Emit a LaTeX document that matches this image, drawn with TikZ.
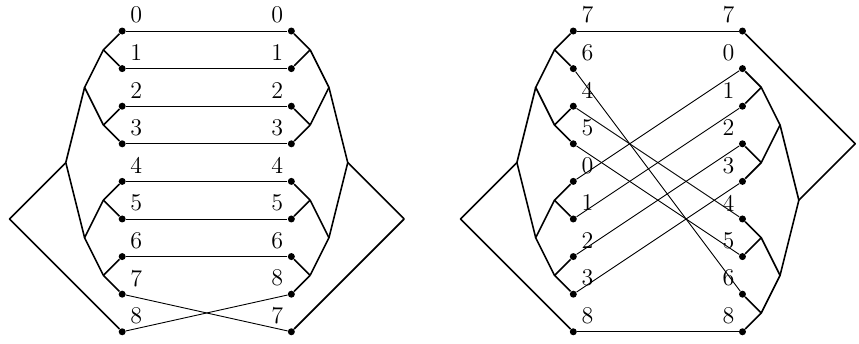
\documentclass[tikz,border=0pt]{standalone}
\usepackage{tikz}
\usetikzlibrary{positioning}

% binary merge tree hanging off one column of dots
% #1 prefix, #2 x of the dots, #3 side (-1 or 1), #4 first of eight rows, #5 lone row
\newcommand\mergetree[5]{%
  \foreach \k in {0,...,3} {
    \pgfmathtruncatemacro\m{#4+2*\k}
    \pgfmathtruncatemacro\n{#4+2*\k+1}
    \coordinate (#1p\k) at ({#2+(#3)},{-2*\m-1});
    \draw[tree] (#1\m) -- (#1p\k) -- (#1\n);
  }
  \coordinate (#1q0) at ({#2+2*(#3)},{-2*(#4)-3});
  \coordinate (#1q1) at ({#2+2*(#3)},{-2*(#4)-11});
  \coordinate (#1r) at ({#2+3*(#3)},{-2*(#4)-7});
  \coordinate (#1s) at ({#2+6*(#3)},{-2*(#4)-7-3*sign(#5-(#4))});
  \draw[tree] (#1p0) -- (#1q0) -- (#1p1);
  \draw[tree] (#1p2) -- (#1q1) -- (#1p3);
  \draw[tree] (#1q0) -- (#1r) -- (#1q1);
  \draw[tree] (#1r) -- (#1s) -- (#1#5);
}

\begin{document}
\begin{tikzpicture}[
    x=9.4pt, y=9.4pt,
    dot/.style={circle, fill, inner sep=0pt, minimum size=3.5pt},
    num/.style={inner sep=0pt, font=\large},
    tree/.style={line width=0.8pt, line join=round},
    wire/.style={line width=0.45pt},
  ]
  \useasboundingbox (0,-16.6) rectangle (45.7,1.65);

  % first network
  \foreach \t [count=\i from 0] in {0,1,2,3,4,5,6,7,8} {
    \node[dot] (a\i) at (6.5,-2*\i) {};
    \node[num] (a\i t) at (7.25,-2*\i+0.85) {\t};
  }
  \foreach \t [count=\i from 0] in {0,1,2,3,4,5,6,8,7} {
    \node[dot] (b\i) at (15.5,-2*\i) {};
    \node[num] (b\i t) at (14.75,-2*\i+0.85) {\t};
  }
  \foreach \i/\j in {0/0,1/1,2/2,3/3,4/4,5/5,6/6,7/8,8/7}
    \draw[wire] (a\i) -- (b\j);
  \mergetree{a}{6.5}{-1}{0}{8}
  \mergetree{b}{15.5}{1}{0}{8}

  % second network
  \foreach \t [count=\i from 0] in {7,6,4,5,0,1,2,3,8} {
    \node[dot] (c\i) at (30.5,-2*\i) {};
    \node[num] (c\i t) at (31.25,-2*\i+0.85) {\t};
  }
  \foreach \t [count=\i from 0] in {7,0,1,2,3,4,5,6,8} {
    \node[dot] (d\i) at (39.5,-2*\i) {};
    \node[num] (d\i t) at (38.75,-2*\i+0.85) {\t};
  }
  \foreach \i/\j in {0/0,1/7,2/5,3/6,4/1,5/2,6/3,7/4,8/8}
    \draw[wire] (c\i) -- (d\j);
  \mergetree{c}{30.5}{-1}{0}{8}
  \mergetree{d}{39.5}{1}{1}{0}
\end{tikzpicture}
\end{document}
